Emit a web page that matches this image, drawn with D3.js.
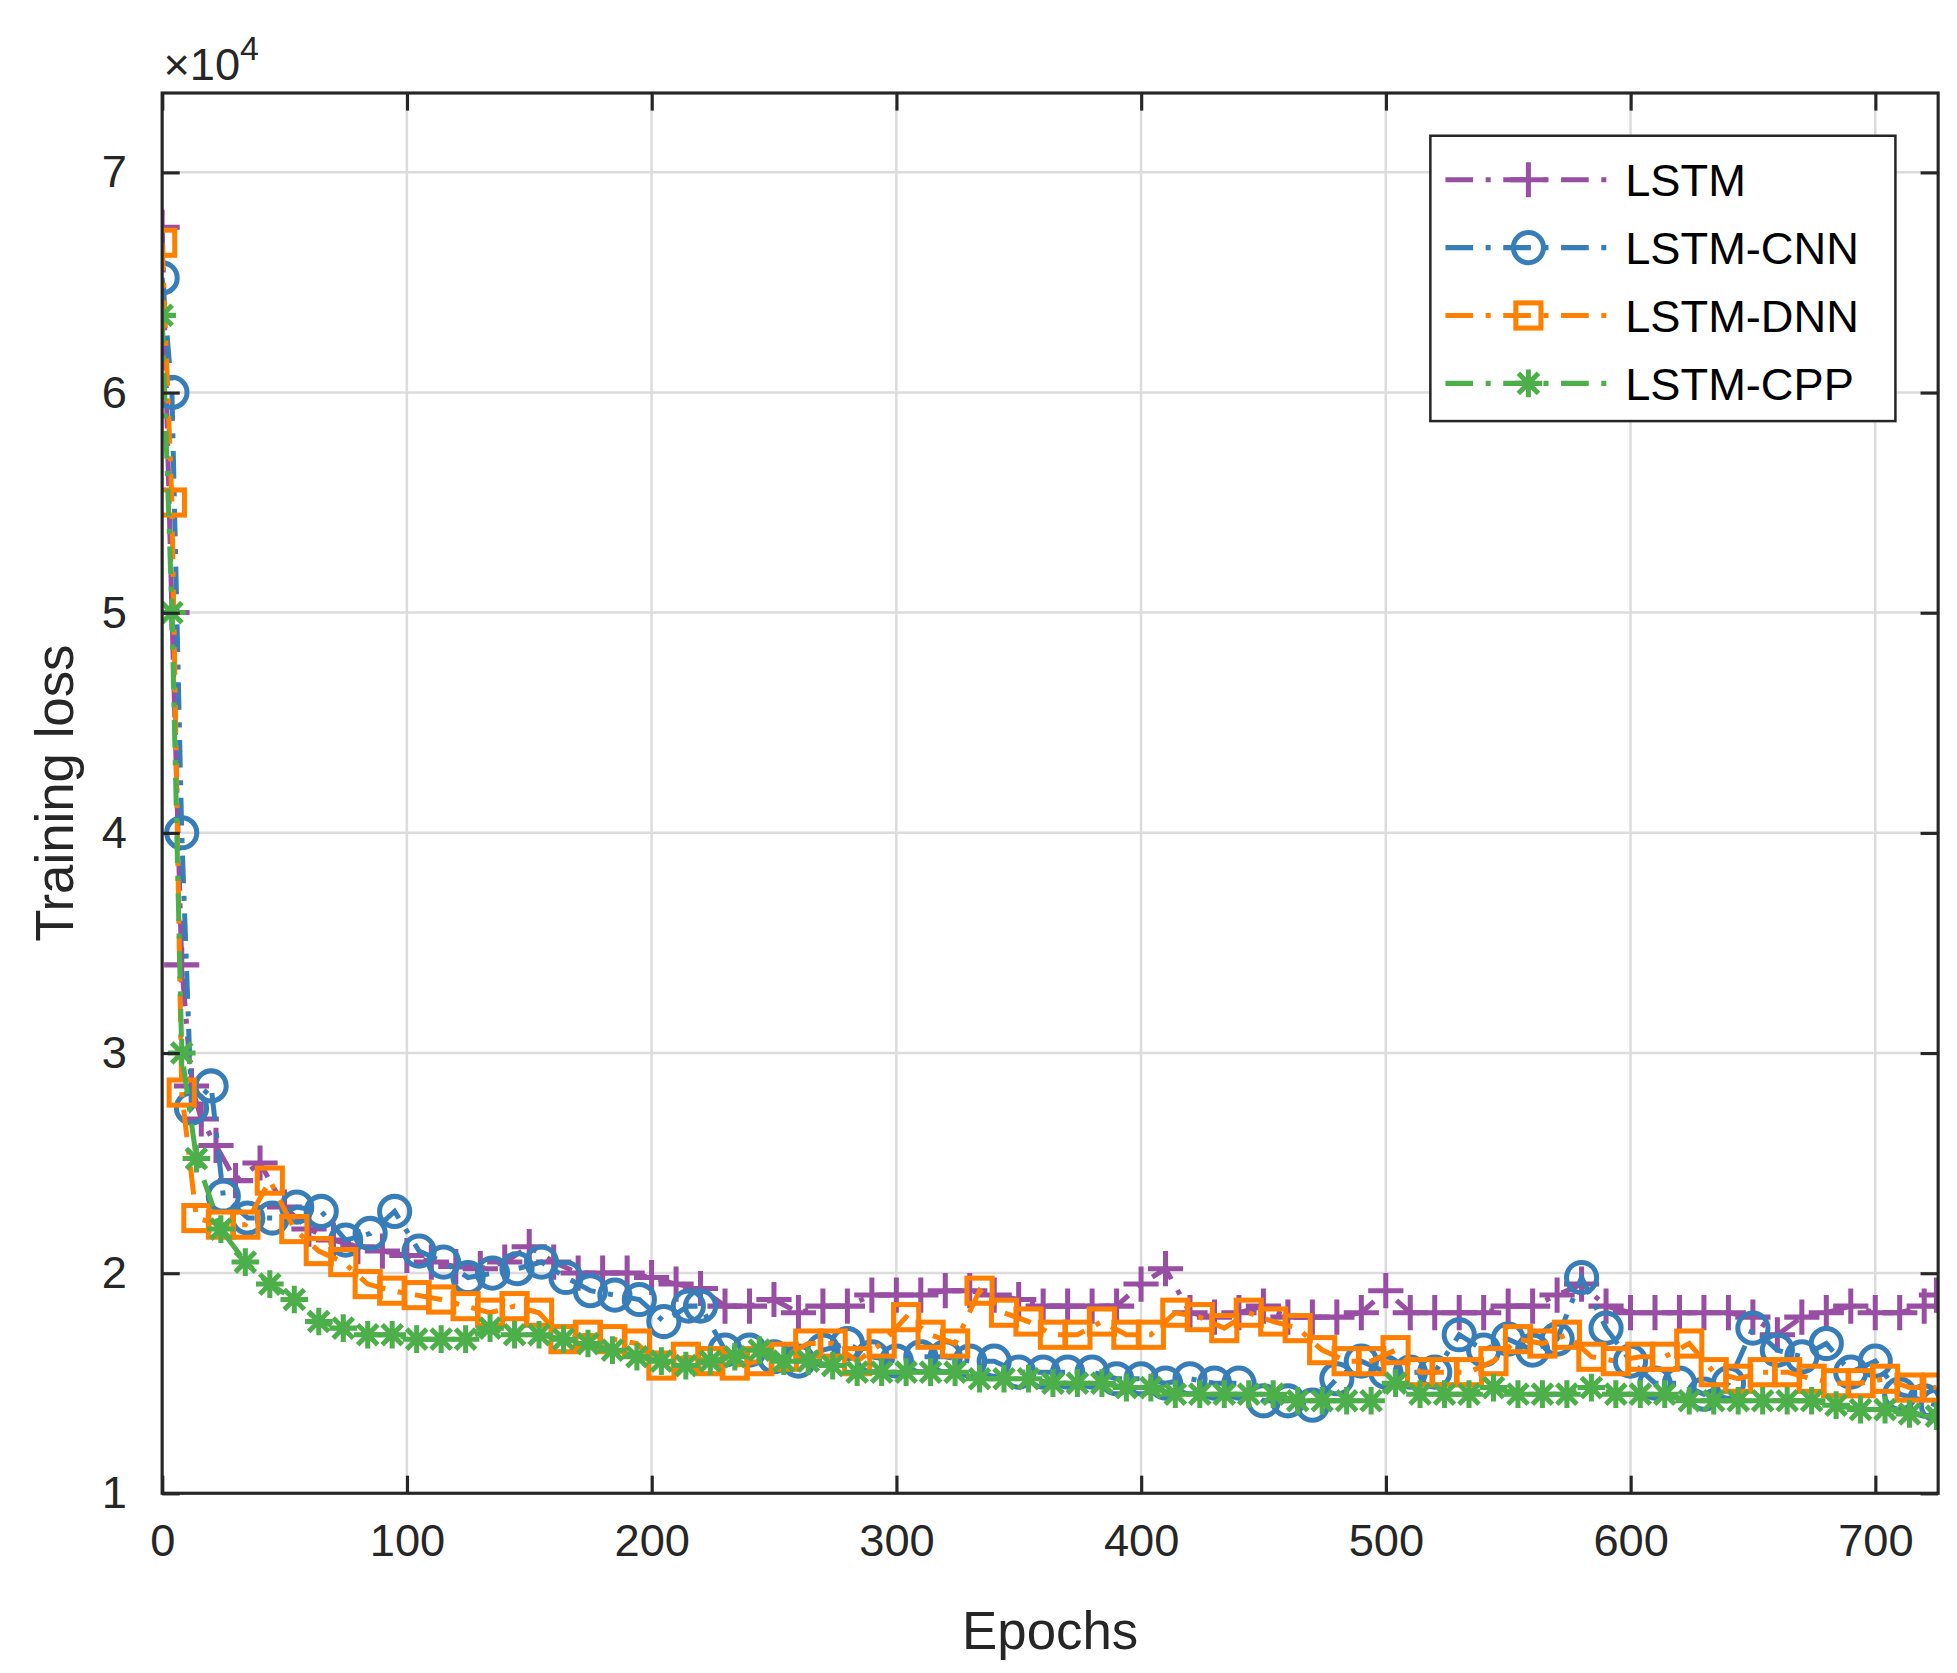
<!DOCTYPE html>
<meta charset="utf-8">
<style>
body { margin: 0; background: #fff; font-family: "Liberation Sans", Arial, sans-serif; }
.grid line { stroke: #dcdcdc; stroke-width: 2; }
.tick text { font-size: 36px; fill: #262626; }
</style>
<div id="chart"></div>
<script src="https://d3js.org/d3.v7.min.js"></script>
<script>
var W = 1957, H = 1673;
var VW = 1557, VH = 1331;
var m = {left: 129, right: 1542, top: 74, bottom: 1188};

// epochs and losses (x10^4)
var lstmX = [0,4,8,12,16,22,30,40,50,60,70,80,90,100,110,120,130,140,150,160,170,180,190,200,210,220,230,240,250,260,270,280,290,300,310,320,330,340,350,360,370,380,390,400,410,420,430,440,450,460,470,480,490,500,510,520,530,540,550,560,570,580,590,600,610,620,630,640,650,660,670,680,690,700,710,720,725];
var lstmY = [6.75,5.0,3.4,2.85,2.7,2.58,2.42,2.5,2.3,2.2,2.15,2.12,2.1,2.08,2.05,2.03,2.02,2.05,2.12,2.05,2.0,2.0,2.0,1.98,1.95,1.93,1.85,1.85,1.88,1.82,1.85,1.85,1.9,1.9,1.9,1.92,1.92,1.9,1.88,1.85,1.85,1.85,1.85,1.95,2.02,1.82,1.8,1.82,1.85,1.8,1.8,1.8,1.82,1.92,1.82,1.82,1.82,1.82,1.85,1.85,1.9,1.95,1.85,1.82,1.82,1.82,1.82,1.82,1.8,1.72,1.8,1.82,1.85,1.82,1.82,1.85,1.9];
var cnnX = [0,4,8,12,20,25,35,45,55,65,75,85,95,105,115,125,135,145,155,165,175,185,195,205,215,220,230,240,250,260,270,280,290,300,310,320,330,340,350,360,370,380,390,400,410,420,430,440,450,460,470,480,490,500,510,520,530,540,550,560,570,580,590,600,610,620,630,640,650,660,670,680,690,700,710,720,725];
var cnnY = [6.52,6.0,4.0,2.75,2.85,2.35,2.25,2.25,2.3,2.28,2.15,2.18,2.28,2.1,2.05,1.98,2.0,2.02,2.05,1.98,1.92,1.9,1.88,1.78,1.85,1.85,1.65,1.65,1.62,1.6,1.65,1.68,1.62,1.6,1.62,1.62,1.6,1.6,1.55,1.55,1.55,1.55,1.52,1.52,1.5,1.52,1.5,1.5,1.42,1.42,1.4,1.52,1.6,1.55,1.55,1.55,1.72,1.65,1.7,1.65,1.7,1.98,1.75,1.6,1.5,1.5,1.45,1.5,1.75,1.65,1.62,1.68,1.55,1.6,1.45,1.42,1.4];
var dnnX = [0,4,8,14,24,34,44,54,64,74,84,94,104,114,124,134,144,154,164,174,184,194,204,214,224,234,244,254,264,274,284,294,304,314,324,334,344,354,364,374,384,394,404,414,424,434,444,454,464,474,484,494,504,514,524,534,544,554,564,574,584,594,604,614,624,634,644,654,664,674,684,694,704,714,725];
var dnnY = [6.68,5.5,2.82,2.25,2.22,2.22,2.42,2.2,2.1,2.05,1.95,1.92,1.9,1.88,1.85,1.82,1.85,1.82,1.7,1.72,1.7,1.68,1.58,1.62,1.6,1.58,1.6,1.62,1.68,1.68,1.6,1.68,1.8,1.72,1.68,1.92,1.82,1.78,1.72,1.72,1.78,1.72,1.72,1.82,1.8,1.75,1.82,1.78,1.75,1.65,1.6,1.6,1.65,1.55,1.55,1.55,1.6,1.7,1.68,1.72,1.62,1.6,1.62,1.62,1.68,1.55,1.52,1.55,1.55,1.52,1.5,1.5,1.52,1.48,1.48];
var cppX = dnnX;
var cppY = [6.35,5.0,3.0,2.52,2.2,2.05,1.95,1.88,1.78,1.75,1.72,1.72,1.7,1.7,1.7,1.75,1.72,1.72,1.7,1.68,1.65,1.62,1.6,1.58,1.6,1.62,1.65,1.6,1.6,1.58,1.55,1.55,1.55,1.55,1.55,1.52,1.52,1.52,1.5,1.5,1.5,1.48,1.48,1.45,1.45,1.45,1.45,1.45,1.42,1.42,1.42,1.42,1.5,1.45,1.45,1.45,1.48,1.45,1.45,1.45,1.48,1.45,1.45,1.45,1.42,1.42,1.42,1.42,1.42,1.42,1.4,1.38,1.38,1.36,1.35];

var names = ["LSTM", "LSTM-CNN", "LSTM-DNN", "LSTM-CPP"];
var colors = ["#984ea3", "#377eb8", "#ff7f00", "#4daf4a"];
var markers = ["plus", "circle", "square", "star"];
var xTicks = [0,100,200,300,400,500,600,700];
var yTicks = [1,2,3,4,5,6,7];

var series = [[lstmX, lstmY], [cnnX, cnnY], [dnnX, dnnY], [cppX, cppY]].map(function(s, i) {
  return {name: names[i], color: colors[i], marker: markers[i],
    pts: s[0].map(function(x, j) { return [x, s[1][j]]; })};
});

var x = d3.scaleLinear().domain([0, 725.7]).range([m.left, m.right]);
var y = d3.scaleLinear().domain([1, 7.36]).range([m.bottom, m.top]);

var svg = d3.select("#chart").append("svg").attr("width", W).attr("height", H)
  .attr("viewBox", "0 0 " + VW + " " + VH).attr("preserveAspectRatio", "none");

var grid = svg.append("g").attr("class", "grid");
grid.selectAll(".gx").data(xTicks).enter().append("line")
  .attr("x1", x).attr("x2", x).attr("y1", m.top).attr("y2", m.bottom);
grid.selectAll(".gy").data(yTicks).enter().append("line")
  .attr("y1", y).attr("y2", y).attr("x1", m.left).attr("x2", m.right);

svg.append("defs").append("clipPath").attr("id", "clip").append("rect")
  .attr("x", m.left).attr("y", m.top).attr("width", m.right - m.left).attr("height", m.bottom - m.top);

function drawMarker(g, type, color) {
  if (type == "plus") {
    g.append("path").attr("d", "M-14,0H14M0,-14V14").attr("stroke", color).attr("stroke-width", 4).attr("fill", "none");
  } else if (type == "circle") {
    g.append("circle").attr("r", 12).attr("stroke", color).attr("stroke-width", 4).attr("fill", "none");
  } else if (type == "square") {
    g.append("rect").attr("x", -10).attr("y", -10).attr("width", 20).attr("height", 20).attr("stroke", color).attr("stroke-width", 4).attr("fill", "none");
  } else {
    g.append("path").attr("d", "M-11,0H11M0,-11V11M-8,-8L8,8M-8,8L8,-8").attr("stroke", color).attr("stroke-width", 4).attr("fill", "none");
  }
}

var line = d3.line().x(function(d) { return x(d[0]); }).y(function(d) { return y(d[1]); });
var plot = svg.append("g").attr("clip-path", "url(#clip)");
series.forEach(function(s) {
  plot.append("path").datum(s.pts).attr("d", line).attr("fill", "none")
    .attr("stroke", s.color).attr("stroke-width", 4).attr("stroke-dasharray", "22,10,4,10");
  s.pts.forEach(function(p) {
    drawMarker(plot.append("g").attr("transform", "translate(" + x(p[0]) + "," + y(p[1]) + ")"), s.marker, s.color);
  });
});

// box and ticks
svg.append("rect").attr("x", m.left).attr("y", m.top).attr("width", m.right - m.left).attr("height", m.bottom - m.top)
  .attr("fill", "none").attr("stroke", "#262626").attr("stroke-width", 2.5);
svg.append("g").attr("transform", "translate(0," + m.bottom + ")")
  .call(d3.axisBottom(x).tickValues(xTicks).tickSize(-14).tickPadding(24).tickFormat(d3.format("d")));
svg.append("g").attr("transform", "translate(" + m.left + ",0)")
  .call(d3.axisLeft(y).tickValues(yTicks).tickSize(-14).tickPadding(28).tickFormat(d3.format("d")));
svg.append("g").attr("transform", "translate(0," + m.top + ")")
  .call(d3.axisTop(x).tickValues(xTicks).tickSize(-14).tickFormat(""));
svg.append("g").attr("transform", "translate(" + m.right + ",0)")
  .call(d3.axisRight(y).tickValues(yTicks).tickSize(-14).tickFormat(""));
svg.selectAll(".domain").remove();
svg.selectAll(".tick line").attr("stroke", "#262626").attr("stroke-width", 2.5);

svg.append("text").attr("x", 130).attr("y", 64).attr("font-size", 36).attr("fill", "#262626")
  .html('×10<tspan dy="-16" font-size="27">4</tspan>');
svg.append("text").attr("x", (m.left + m.right) / 2).attr("y", 1312).attr("text-anchor", "middle")
  .attr("font-size", 42).attr("fill", "#262626").text("Epochs");
svg.append("text").attr("transform", "translate(58," + (m.top + m.bottom) / 2 + ") rotate(-90)")
  .attr("text-anchor", "middle").attr("font-size", 42).attr("fill", "#262626").text("Training loss");

// legend
var lg = svg.append("g");
lg.append("rect").attr("x", 1138).attr("y", 108).attr("width", 370).attr("height", 227)
  .attr("fill", "#fff").attr("stroke", "#262626").attr("stroke-width", 2);
series.forEach(function(s, i) {
  var ly = 143 + i * 54;
  lg.append("line").attr("x1", 1150).attr("x2", 1283).attr("y1", ly).attr("y2", ly)
    .attr("stroke", s.color).attr("stroke-width", 4).attr("stroke-dasharray", "22,10,4,10");
  drawMarker(lg.append("g").attr("transform", "translate(1216," + ly + ")"), s.marker, s.color);
  lg.append("text").attr("x", 1293).attr("y", ly + 13).attr("font-size", 36).attr("fill", "#000").text(s.name);
});
</script>
